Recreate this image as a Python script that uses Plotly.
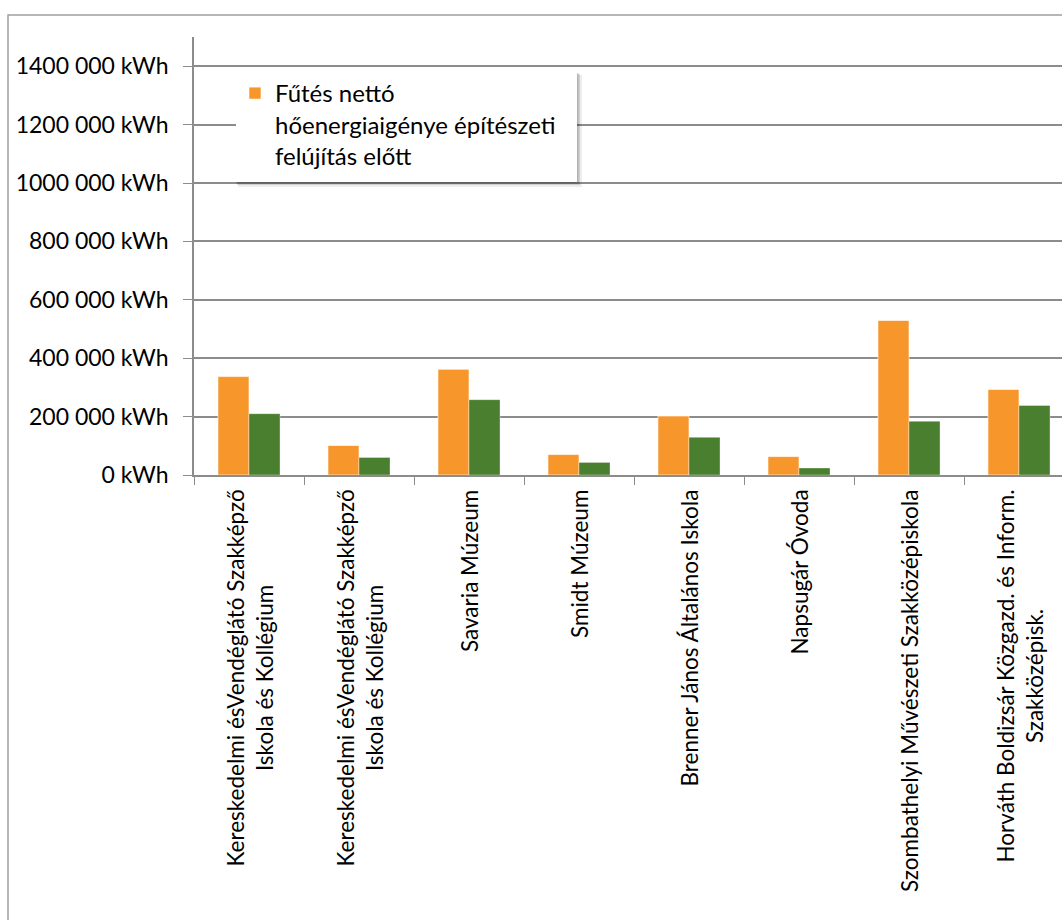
import plotly.graph_objects as go

# ---- data ----
categories = [
    "Kereskedelmi ésVendéglátó Szakképző Iskola és Kollégium",
    "Kereskedelmi ésVendéglátó Szakképző Iskola és Kollégium",
    "Savaria Múzeum",
    "Smidt Múzeum",
    "Brenner János Általános Iskola",
    "Napsugár Óvoda",
    "Szombathelyi Művészeti Szakközépiskola",
    "Horváth Boldizsár Közgazd. és Inform. Szakközépisk.",
]
category_labels = [
    "Kereskedelmi ésVendéglátó Szakképző<br>Iskola és Kollégium",
    "Kereskedelmi ésVendéglátó Szakképző<br>Iskola és Kollégium",
    "Savaria Múzeum",
    "Smidt Múzeum",
    "Brenner János Általános Iskola",
    "Napsugár Óvoda",
    "Szombathelyi Művészeti Szakközépiskola",
    "Horváth Boldizsár Közgazd. és Inform.<br>Szakközépisk.",
]
before_values = [337000, 101000, 362000, 70000, 202000, 63000, 529000, 293000]
after_values = [210000, 60000, 258000, 43000, 129000, 24000, 184000, 238000]

series_before = "Fűtés nettó<br>hőenergiaigénye építészeti<br>felújítás előtt"
series_after = "Fűtés nettó<br>hőenergiaigénye építészeti<br>felújítás után"

y_tick_values = [0, 200000, 400000, 600000, 800000, 1000000, 1200000, 1400000]
y_tick_labels = ["0 kWh", "200 000 kWh", "400 000 kWh", "600 000 kWh",
                 "800 000 kWh", "1000 000 kWh", "1200 000 kWh", "1400 000 kWh"]

ORANGE = "#F7962B"
GREEN = "#4A7F30"
GRID = "#8c8c8c"
FONT = "Lato"

x_pos = list(range(len(categories)))
boundaries = [i - 0.5 for i in range(len(categories) + 1)]

fig = go.Figure()
fig.add_trace(go.Bar(
    x=x_pos, y=before_values, name=series_before,
    marker=dict(color=ORANGE, line=dict(color="rgba(255,255,255,0.6)", width=1)),
    customdata=categories, hovertemplate="%{customdata}<br>%{y}<extra></extra>",
))
fig.add_trace(go.Bar(
    x=x_pos, y=after_values, name=series_after, showlegend=False,
    marker=dict(color=GREEN, line=dict(color="rgba(255,255,255,0.35)", width=1)),
    customdata=categories, hovertemplate="%{customdata}<br>%{y}<extra></extra>",
))

W, H = 1062, 920
ml, mr, mt, mb = 194, 0, 37, 445
pw, ph = W - ml - mr, H - mt - mb

def px_x(px):
    return (px - ml) / pw

def px_y(py):
    return (H - mb - py) / ph

# category labels under the axis
for xp, lab in zip(x_pos, category_labels):
    fig.add_annotation(
        x=xp, xref="x", y=0, yref="paper", text=lab, textangle=-90,
        showarrow=False, xanchor="center", yanchor="top", yshift=-13,
        align="center", font=dict(family=FONT, size=22.5, color="black"),
    )

def rect(x0, y0, x1, y1, fill):
    return dict(type="rect", xref="paper", yref="paper",
                x0=px_x(x0), x1=px_x(x1), y0=px_y(y1), y1=px_y(y0),
                line=dict(width=0), fillcolor=fill, layer="above")

shapes = [
    # outer chart frame
    dict(type="rect", xref="paper", yref="paper",
         x0=px_x(8), x1=1.2, y0=-1.5, y1=px_y(15),
         line=dict(color="#a0a0a0", width=1.5), fillcolor="rgba(0,0,0,0)", layer="below"),
    # legend box with soft shadow
    rect(238, 75, 582, 187, "rgba(0,0,0,0.07)"),
    rect(237, 74, 580, 185, "rgba(0,0,0,0.12)"),
    rect(236, 73, 578.5, 183.5, "rgba(0,0,0,0.15)"),
    rect(236, 72, 577, 182, "white"),
]

fig.update_layout(
    width=W, height=H,
    margin=dict(l=ml, r=mr, t=mt, b=mb, pad=0),
    paper_bgcolor="white", plot_bgcolor="white",
    font=dict(family=FONT, size=22, color="black"),
    barmode="group", bargap=0.436, bargroupgap=0,
    showlegend=True,
    legend=dict(
        x=px_x(235), y=px_y(71), xanchor="left", yanchor="top",
        bgcolor="rgba(0,0,0,0)", borderwidth=0, valign="top",
        font=dict(family=FONT, size=24, color="black"),
    ),
    shapes=shapes,
    xaxis=dict(
        range=[-0.5, -0.5 + pw / 110.0],
        showgrid=False, zeroline=False,
        showline=True, linecolor=GRID, linewidth=1.6,
        tickmode="array", tickvals=boundaries, showticklabels=False,
        ticks="outside", ticklen=8, tickwidth=1.3, tickcolor=GRID,
    ),
    yaxis=dict(
        range=[0, 1500000],
        tickmode="array", tickvals=y_tick_values, ticktext=y_tick_labels,
        showgrid=True, gridcolor=GRID, gridwidth=1.6,
        zeroline=False,
        showline=True, linecolor=GRID, linewidth=1.6,
        ticks="outside", ticklen=9, tickwidth=1.3, tickcolor=GRID,
        ticklabelstandoff=10,
        tickfont=dict(family=FONT, size=23, color="black"),
    ),
)

fig.write_html("out.html")
